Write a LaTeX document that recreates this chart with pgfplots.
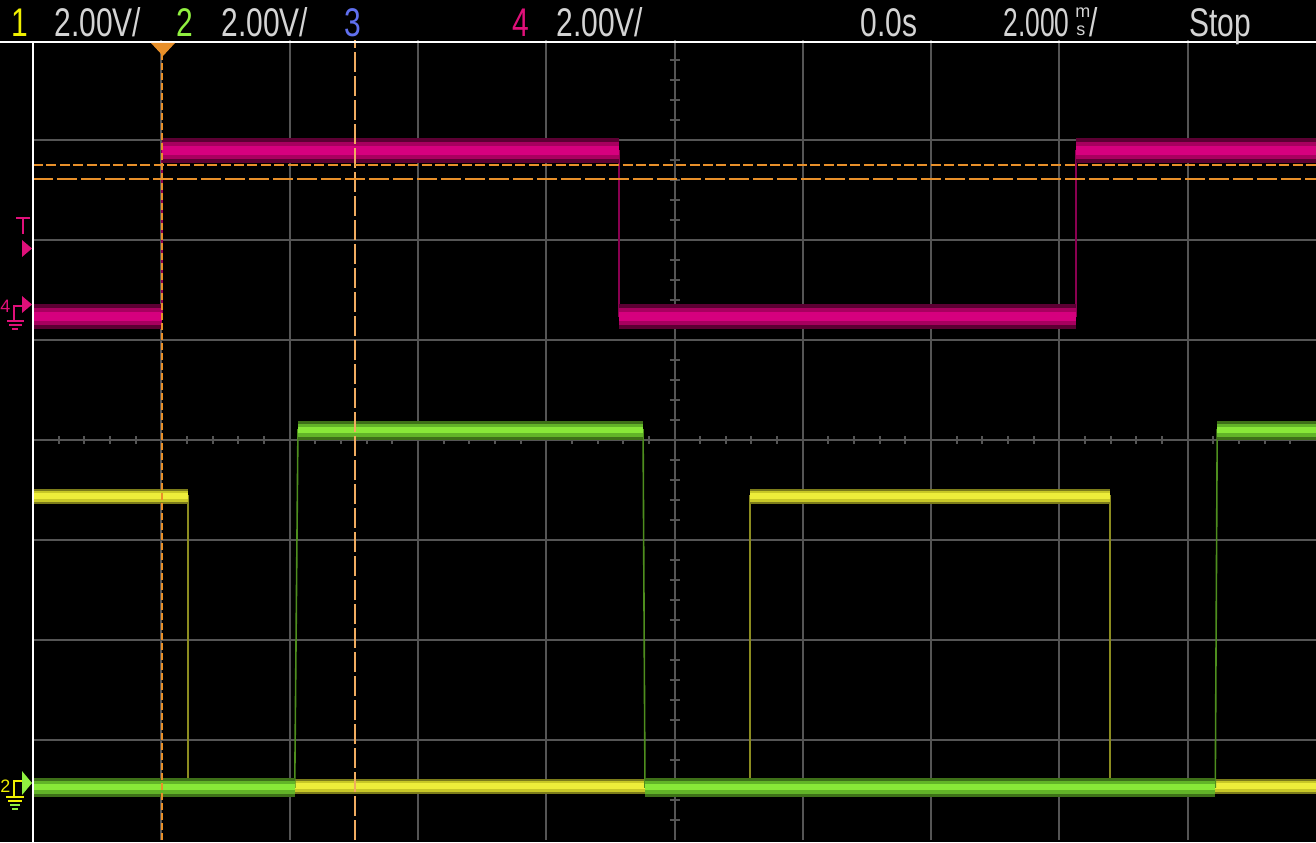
\documentclass[border=0pt]{standalone}
\usepackage{fontspec}
\setmainfont{Liberation Sans}
\usepackage{graphicx}
\usepackage{pgfplots}
\usepackage{pgfplotstable}
\pgfplotsset{compat=1.18}
\definecolor{gridgray}{HTML}{555555}
\definecolor{magO}{HTML}{5C0033}
\definecolor{magM}{HTML}{A8005F}
\definecolor{magC}{HTML}{D6007E}
\definecolor{magE}{HTML}{8A0050}
\definecolor{yelO}{HTML}{7C7C1A}
\definecolor{yelM}{HTML}{C8C828}
\definecolor{yelC}{HTML}{EEEE3A}
\definecolor{yelE}{HTML}{8C8C20}
\definecolor{grnO}{HTML}{3E7018}
\definecolor{grnM}{HTML}{62B428}
\definecolor{grnC}{HTML}{88E838}
\definecolor{grnE}{HTML}{4E8E1E}
\definecolor{curO}{HTML}{E8902A}
\definecolor{curL}{HTML}{F0AC60}
\definecolor{txt}{HTML}{D4D4D4}
\definecolor{chA}{HTML}{F0F000}
\definecolor{chB}{HTML}{90F040}
\definecolor{chC}{HTML}{6070F0}
\definecolor{chD}{HTML}{E0107A}

% channel 4 (magenta): x in ms, y in divisions
\pgfplotstableread{
x y
-10 1.24
-7.99 1.24
nan nan
-7.99 2.89
-0.865 2.89
nan nan
-0.865 1.24
6.26 1.24
nan nan
6.26 2.89
10 2.89
}\magband
\pgfplotstableread{
x y
-10 -0.56
-7.58 -0.56
nan nan
1.18 -0.56
6.79 -0.56
nan nan
-7.58 -3.46
1.18 -3.46
nan nan
6.79 -3.46
10 -3.46
}\yelband
\pgfplotstableread{
x y
-5.87 0.10
-0.49 0.10
nan nan
8.46 0.10
10 0.10
nan nan
-10 -3.47
-5.92 -3.47
nan nan
-0.46 -3.47
8.43 -3.47
}\grnband

\newcommand{\nar}[1]{\scalebox{0.75}[1]{#1}}
\begin{document}
\begin{tikzpicture}
\useasboundingbox (0,0) rectangle (658pt,421pt);
\fill[black] (0,0) rectangle (658pt,421pt);
\begin{axis}[at={(16.5pt,1pt)}, anchor=south west, scale only axis,
  width=641.5pt, height=400pt, xmin=-10, xmax=10, ymin=-4, ymax=4,
  axis line style={draw=none}, xtick={-8,-6,...,8}, ytick={-3,...,3},
  xticklabels={}, yticklabels={}, tick style={draw=none},
  grid=major, grid style={color=gridgray, line width=1pt},
  unbounded coords=jump, clip=true]
% centre crosshair ticks
\pgfplotsinvokeforeach{-24,...,24}{
  \draw[gridgray, line width=1pt] (axis cs:{#1*0.4},-0.04) -- (axis cs:{#1*0.4},0.04);
}
\pgfplotsinvokeforeach{-19,...,19}{
  \draw[gridgray, line width=1pt] (axis cs:-0.078,{#1*0.2}) -- (axis cs:0.078,{#1*0.2});
}
% channel 4
\addplot[magE, line width=0.6pt] coordinates {(-10,1.24)(-7.99,1.24)(-7.99,2.89)(-0.865,2.89)(-0.865,1.24)(6.26,1.24)(6.26,2.89)(10,2.89)};
\addplot[magO, line width=12.5pt] table {\magband};
\addplot[magM, line width=8.5pt] table {\magband};
\addplot[magC, line width=4.5pt] table {\magband};
% channel 1
\addplot[yelE, line width=0.8pt] coordinates {(-10,-0.56)(-7.58,-0.56)(-7.58,-3.46)(1.18,-3.46)(1.18,-0.56)(6.79,-0.56)(6.79,-3.46)(10,-3.46)};
\addplot[yelO, line width=7.5pt] table {\yelband};
\addplot[yelM, line width=5.5pt] table {\yelband};
\addplot[yelC, line width=3pt] table {\yelband};
% channel 2
\addplot[grnE, line width=0.8pt] coordinates {(-10,-3.47)(-5.92,-3.47)(-5.87,0.10)(-0.49,0.10)(-0.46,-3.47)(8.43,-3.47)(8.46,0.10)(10,0.10)};
\addplot[grnO, line width=9.5pt] table {\grnband};
\addplot[grnM, line width=6.5pt] table {\grnband};
\addplot[grnC, line width=3pt] table {\grnband};
% cursors
\draw[curO, line width=1pt, dash pattern=on 3.5pt off 1.5pt] (axis cs:-7.99,-4) -- (axis cs:-7.99,4);
\draw[curL, line width=1pt, dash pattern=on 10pt off 2pt] (axis cs:-4.98,-4) -- (axis cs:-4.98,4);
\draw[curO, line width=1pt, dash pattern=on 5pt off 1.7pt] (axis cs:-10,2.75) -- (axis cs:10,2.75);
\draw[curO, line width=1pt, dash pattern=on 10pt off 2pt] (axis cs:-10,2.61) -- (axis cs:10,2.61);
\end{axis}
\begin{scope}[shift={(0pt,421pt)}, x=0.5pt, y=-0.5pt]
% frame lines
\draw[white, line width=1pt] (0,42) -- (1316,42);
\draw[white, line width=1pt] (33,42) -- (33,842);
% trigger marker
\fill[curO] (151,43) -- (175,43) -- (163,56) -- cycle;
% T marker
\draw[chD, line width=1pt] (16,218) -- (30,218) (23,218) -- (23,234);
\fill[chD] (22,240) -- (32,248.5) -- (22,257) -- cycle;
% channel 4 marker
\fill[chD] (22,296) -- (32,304.5) -- (22,313) -- cycle;
\node[chD, anchor=base west, inner sep=0pt, font=\fontsize{9}{10}\selectfont] at (0,312) {4};
\draw[chD, line width=0.8pt] (14,320) -- (14,306) -- (22,306);
\draw[chD, line width=0.8pt] (7,321) -- (24,321) (9,325) -- (22,325) (12,329) -- (18,329);
% channel 1/2 marker
\fill[chB] (22,771) -- (32,783) -- (22,795) -- cycle;
\node[chA, anchor=base west, inner sep=0pt, font=\fontsize{9}{10}\selectfont] at (0,792) {2};
\draw[chA, line width=0.8pt] (14,796) -- (14,781) -- (22,781);
\draw[chA, line width=0.8pt] (6,797) -- (24,797) (8,801) -- (22,801);
\draw[chB, line width=0.8pt] (10,805) -- (20,805) (12,809) -- (18,809);
% header text
\begin{scope}[every node/.style={anchor=base west, inner sep=0pt, font=\fontsize{20}{24}\selectfont}]
\node[chA] at (11,37) {\nar{1}};
\node[txt] at (54,37) {\nar{2.00V/}};
\node[chB] at (176,37) {\nar{2}};
\node[txt] at (221,37) {\nar{2.00V/}};
\node[chC] at (344,37) {\nar{3}};
\node[chD] at (512,37) {\nar{4}};
\node[txt] at (556,37) {\nar{2.00V/}};
\node[txt] at (860,37) {\nar{0.0s}};
\node[txt] at (1003,37) {\scalebox{0.66}[1]{2.000}};
\node[txt, font=\fontsize{9}{10}\selectfont] at (1075,18) {m};
\node[txt, font=\fontsize{9}{10}\selectfont] at (1076,36) {s};
\node[txt] at (1089,37) {\nar{/}};
\node[txt] at (1189,37) {\nar{Stop}};
\end{scope}
\end{scope}
\end{tikzpicture}
\end{document}
